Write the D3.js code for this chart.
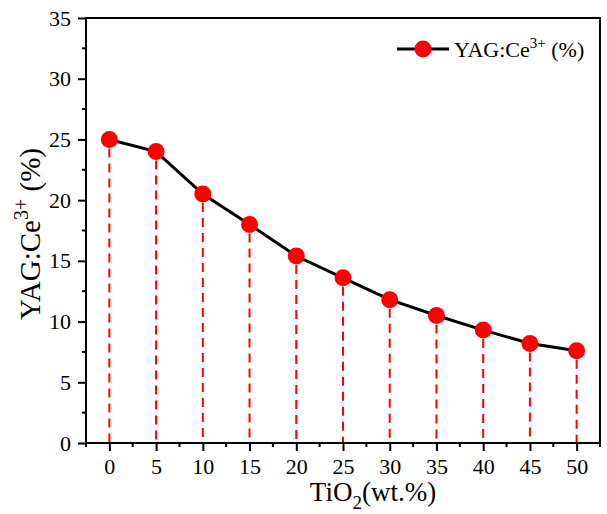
<!DOCTYPE html>
<html>
<head>
<meta charset="utf-8">
<script src="https://cdn.jsdelivr.net/npm/d3@7"></script>
<style>
  html, body { margin: 0; padding: 0; background: #fff; }
  svg { display: block; font-family: "Liberation Serif", "Times New Roman", serif; }
</style>
</head>
<body>
<svg id="chart" width="607" height="514"></svg>
<script>
// TiO2 content (wt.%) and YAG:Ce3+ fraction (%)
const tio2 = [0, 5, 10, 15, 20, 25, 30, 35, 40, 45, 50];
const yag = [25.0, 24.0, 20.5, 18.0, 15.4, 13.6, 11.8, 10.5, 9.3, 8.2, 7.6];
const xTicks = [0, 5, 10, 15, 20, 25, 30, 35, 40, 45, 50];
const yTicks = [0, 5, 10, 15, 20, 25, 30, 35];

const FONT = "Liberation Serif";
const svg = d3.select("#chart");
const margin = { left: 86, right: 7, top: 18, bottom: 71 };
const W = 607, H = 514;
const x = d3.scaleLinear().domain([-2.5, 52.5]).range([margin.left, W - margin.right]);
const y = d3.scaleLinear().domain([0, 35]).range([H - margin.bottom, margin.top]);

// drop lines from each point to the baseline
svg.append("g").selectAll("line").data(tio2).join("line")
  .attr("x1", d => x(d)).attr("x2", d => x(d))
  .attr("y1", (d, i) => y(yag[i]) + 9).attr("y2", y(0))
  .attr("stroke", "#ff0000").attr("stroke-width", 2)
  .attr("stroke-dasharray", "9,6");

// frame
svg.append("rect")
  .attr("x", x(-2.5)).attr("y", y(35))
  .attr("width", x(52.5) - x(-2.5)).attr("height", y(0) - y(35))
  .attr("fill", "none").attr("stroke", "#000").attr("stroke-width", 2);

// minor ticks
const xMinor = d3.range(-2.5, 52.6, 2.5).filter(v => !xTicks.includes(v));
const yMinor = d3.range(2.5, 35, 5);
svg.append("g").selectAll("line").data(xMinor).join("line")
  .attr("x1", d => x(d)).attr("x2", d => x(d))
  .attr("y1", y(0)).attr("y2", y(0) + 4)
  .attr("stroke", "#000").attr("stroke-width", 2);
svg.append("g").selectAll("line").data(yMinor).join("line")
  .attr("x1", x(-2.5)).attr("x2", x(-2.5) - 4)
  .attr("y1", d => y(d)).attr("y2", d => y(d))
  .attr("stroke", "#000").attr("stroke-width", 2);

// axes
const xAxis = svg.append("g").attr("transform", `translate(0,${y(0)})`)
  .call(d3.axisBottom(x).tickValues(xTicks).tickSize(8).tickPadding(7).tickSizeOuter(0));
const yAxis = svg.append("g").attr("transform", `translate(${x(-2.5)},0)`)
  .call(d3.axisLeft(y).tickValues(yTicks).tickSize(8).tickPadding(7).tickSizeOuter(0));
[xAxis, yAxis].forEach(g => {
  g.attr("font-family", FONT).attr("font-size", 22);
  g.select(".domain").remove();
  g.selectAll(".tick line").attr("stroke-width", 2);
  g.selectAll(".tick text").attr("font-size", 22).attr("font-family", FONT).attr("fill", "#000");
});

// curve and markers
const line = d3.line().x((d, i) => x(tio2[i])).y(d => y(d));
svg.append("path").datum(yag).attr("d", line)
  .attr("fill", "none").attr("stroke", "#000").attr("stroke-width", 3);
svg.append("g").selectAll("circle").data(yag).join("circle")
  .attr("cx", (d, i) => x(tio2[i])).attr("cy", d => y(d)).attr("r", 8.5)
  .attr("fill", "#ff0000");

// axis titles
const xt = svg.append("text").attr("x", 373).attr("y", 501)
  .attr("text-anchor", "middle").attr("font-size", 27).attr("font-family", FONT);
xt.append("tspan").text("TiO");
xt.append("tspan").text("2").attr("font-size", 19).attr("dy", 8);
xt.append("tspan").text("(wt.%)").attr("dy", -8);

const yt = svg.append("text")
  .attr("transform", `translate(40,234) rotate(-90)`)
  .attr("text-anchor", "middle").attr("font-size", 29).attr("font-family", FONT);
yt.append("tspan").text("YAG:Ce");
yt.append("tspan").text("3+").attr("font-size", 20).attr("dy", -12);
yt.append("tspan").text(" (%)").attr("dy", 12);

// legend
const lg = svg.append("g").attr("transform", "translate(397,49)");
lg.append("line").attr("x1", 0).attr("x2", 52).attr("stroke", "#000").attr("stroke-width", 3);
lg.append("circle").attr("cx", 26).attr("r", 8.5).attr("fill", "#ff0000");
const lt = lg.append("text").attr("x", 57).attr("y", 8).attr("font-size", 22).attr("font-family", FONT);
lt.append("tspan").text("YAG:Ce");
lt.append("tspan").text("3+").attr("font-size", 15).attr("dy", -9);
lt.append("tspan").text(" (%)").attr("dy", 9);
</script>
</body>
</html>
